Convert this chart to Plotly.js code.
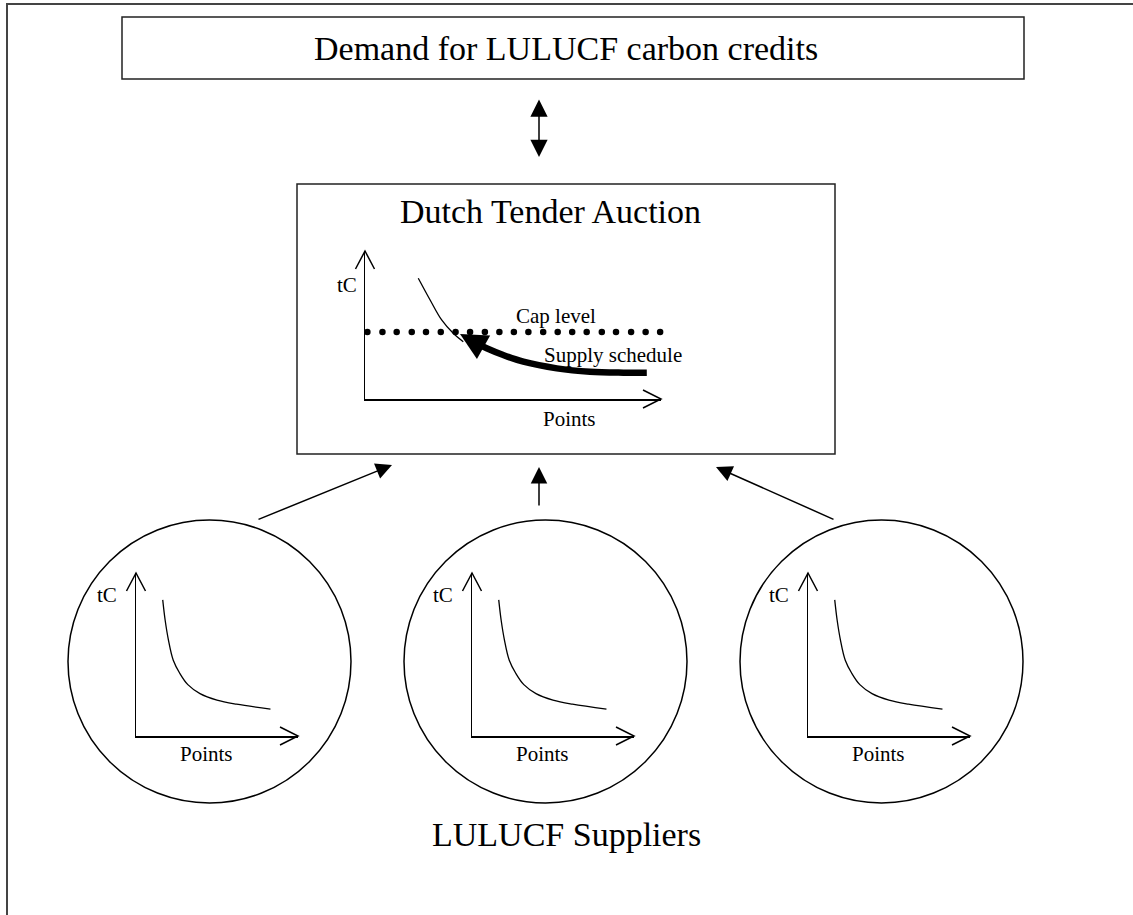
<!DOCTYPE html>
<html>
<head>
<meta charset="utf-8">
<script src="https://cdn.plot.ly/plotly-3.0.1.min.js"></script>
<style>html,body{margin:0;padding:0;background:#fff;}#chart{width:1133px;height:915px;}</style>
</head>
<body>
<div id="chart"></div>
<script>
// ---------------- DATA ----------------
// Supplier cost curves (same schedule in each of the three supplier circles)
const supplierPoints = [1.65, 1.8, 2.0, 2.3, 2.7, 3.2, 3.95, 5.0, 6.2, 8.3];
const supplierTC     = [8.35, 7.1, 5.9, 4.65, 3.85, 3.15, 2.6, 2.2, 1.95, 1.65];
// Auction panel: thin demand curve
const auctionCurvePoints = [1.80, 2.20, 2.59, 2.98, 3.32];
const auctionCurveTC     = [8.16, 6.69, 5.34, 4.44, 3.87];
// Auction panel: cap level (dotted line)
const capLevel = 4.53;
const capDotsPoints = [-1.41, -0.90, -0.42, 0.08, 0.59, 1.07, 1.58, 2.06, 2.56, 3.06, 3.55, 4.05, 4.54,
                       5.03, 5.52, 6.02, 6.51, 7.00, 7.49, 8.00, 8.48, 8.99, 9.48, 9.97, 10.44];
// Auction panel: supply schedule (thick arrow, last point is the arrow tip)
const supplyPoints = [9.52, 8.73, 7.60, 6.48, 5.35, 4.67, 4.11, 3.77, 3.21];
const supplyTC     = [1.78, 1.78, 1.84, 2.07, 2.52, 2.97, 3.43, 3.76, 4.39];
// Text labels
const demandLabel    = 'Demand for LULUCF carbon credits';
const auctionLabel   = 'Dutch Tender Auction';
const suppliersLabel = 'LULUCF Suppliers';
const capLabel       = 'Cap level';
const supplyLabel    = 'Supply schedule';
const xAxisLabel     = 'Points';
const yAxisLabel     = 'tC';

// ---------------- LAYOUT GEOMETRY (pixels) ----------------
const W = 1133, H = 915;
const FONT = 'Liberation Serif, Times New Roman, serif';
const px = v => v / W;
const py = v => 1 - v / H;
const circleLefts = [68, 404, 740];
const circleD = 283, circleTop = 520;

const traces = [];
const shapes = [];
const annotations = [];
const layout = {
  width: W, height: H,
  margin: {l: 0, r: 0, t: 0, b: 0},
  paper_bgcolor: '#fff', plot_bgcolor: 'rgba(0,0,0,0)',
  showlegend: false,
  xaxis: {domain: [0, 1], range: [0, W], visible: false, fixedrange: true},
  yaxis: {domain: [0, 1], range: [H, 0], visible: false, fixedrange: true},
};

function miniAxes(n, x0, x1, yTop, yBot) {
  const common = {range: [0, 10], showline: true, linecolor: '#000', linewidth: 1.5,
    showgrid: false, zeroline: false, showticklabels: false, ticks: '', fixedrange: true};
  layout['xaxis' + n] = Object.assign({}, common, {domain: [px(x0), px(x1)], anchor: 'y' + n});
  layout['yaxis' + n] = Object.assign({}, common, {domain: [py(yBot), py(yTop)], anchor: 'x' + n});
  // open arrowheads at the axis tips
  shapes.push({type: 'path', xref: 'x', yref: 'y', line: {color: '#000', width: 1.5},
    path: `M${x0 - 9.5},${yTop + 18} L${x0},${yTop} L${x0 + 9.5},${yTop + 18}`});
  shapes.push({type: 'path', xref: 'x', yref: 'y', line: {color: '#000', width: 1.5},
    path: `M${x1 - 18},${yBot - 9} L${x1},${yBot} L${x1 - 18},${yBot + 9}`});
}

function label(text, x, y, size, ref) {
  annotations.push({text: text, x: x, y: y, xref: ref ? ref[0] : 'x', yref: ref ? ref[1] : 'y',
    showarrow: false, xanchor: 'center', yanchor: 'middle',
    font: {family: FONT, size: size, color: '#000'}});
}

function arrow(x, y, ax, ay, size) {
  annotations.push({text: '', x: x, y: y, ax: ax, ay: ay, xref: 'x', yref: 'y', axref: 'x', ayref: 'y',
    showarrow: true, arrowhead: 2, arrowsize: size, arrowwidth: 1.5, arrowcolor: '#000', standoff: 0});
}

// Outer frame (only top and left edges fall inside the picture)
shapes.push({type: 'path', xref: 'x', yref: 'y', line: {color: '#444', width: 2},
  path: 'M7,930 L7,4 L1145,4'});
// Demand box
shapes.push({type: 'rect', xref: 'x', yref: 'y', x0: 122, x1: 1024, y0: 17, y1: 79,
  line: {color: '#222', width: 1.5}});
label(demandLabel, 566, 48, 34);
// Double arrow demand <-> auction
annotations.push({text: '', x: 539, y: 157, ax: 539, ay: 98, xref: 'x', yref: 'y', axref: 'x', ayref: 'y',
  showarrow: true, arrowhead: 2, startarrowhead: 2, arrowside: 'end+start',
  arrowsize: 2.3, startarrowsize: 2.3, arrowwidth: 1.5, arrowcolor: '#000', standoff: 0, startstandoff: 0});
// Auction box
shapes.push({type: 'rect', xref: 'x', yref: 'y', x0: 297, x1: 835, y0: 184, y1: 454,
  line: {color: '#222', width: 1.5}});
label(auctionLabel, 550, 211, 34);

// Auction mini chart
miniAxes(2, 365, 661, 251, 399);
traces.push({x: auctionCurvePoints, y: auctionCurveTC, xaxis: 'x2', yaxis: 'y2', type: 'scatter',
  mode: 'lines', line: {color: '#000', width: 1.3, shape: 'spline'}, hoverinfo: 'skip'});
traces.push({x: capDotsPoints, y: capDotsPoints.map(() => capLevel), xaxis: 'x2', yaxis: 'y2', type: 'scatter',
  mode: 'markers', marker: {color: '#000', size: 6.5}, cliponaxis: false, hoverinfo: 'skip'});
const nS = supplyPoints.length;
traces.push({x: supplyPoints.slice(0, nS - 1), y: supplyTC.slice(0, nS - 1), xaxis: 'x2', yaxis: 'y2',
  type: 'scatter', mode: 'lines', line: {color: '#000', width: 6.5, shape: 'spline'}, hoverinfo: 'skip'});
annotations.push({text: '', x: supplyPoints[nS - 1], y: supplyTC[nS - 1], ax: supplyPoints[nS - 2], ay: supplyTC[nS - 2],
  xref: 'x2', yref: 'y2', axref: 'x2', ayref: 'y2', showarrow: true, arrowhead: 2, arrowsize: 0.9,
  arrowwidth: 6, arrowcolor: '#000', standoff: 0});
label(yAxisLabel, 346.7, 285.2, 21);
label(capLabel, 555.5, 315.6, 21);
label(supplyLabel, 613, 354.6, 21);
label(xAxisLabel, 569, 419, 21);

// Arrows from suppliers to auction
arrow(392, 465, 257, 520, 2.15);
arrow(539, 467, 539, 507, 2.2);
arrow(716, 467, 835, 520, 2.15);

// Supplier circles with their mini charts
circleLefts.forEach((L, i) => {
  shapes.push({type: 'circle', xref: 'x', yref: 'y', x0: L, x1: L + circleD, y0: circleTop, y1: circleTop + circleD,
    line: {color: '#000', width: 1.5}});
  const n = 3 + i;
  miniAxes(n, L + 68, L + 230, 573, 736);
  traces.push({x: supplierPoints, y: supplierTC, xaxis: 'x' + n, yaxis: 'y' + n, type: 'scatter',
    mode: 'lines', line: {color: '#000', width: 1.3, shape: 'spline'}, hoverinfo: 'skip'});
  label(yAxisLabel, L + 39, 594.6, 21);
  label(xAxisLabel, L + 138, 754, 21);
});

label(suppliersLabel, 566, 834.5, 34);

layout.shapes = shapes;
layout.annotations = annotations;
Plotly.newPlot('chart', traces, layout, {displayModeBar: false, staticPlot: true});
</script>
</body>
</html>
